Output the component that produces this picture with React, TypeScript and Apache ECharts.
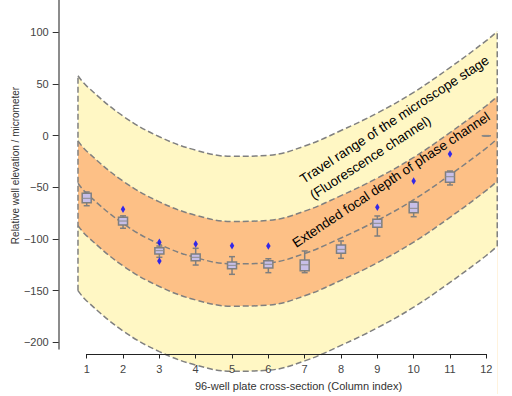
import React, { useEffect, useRef } from "react";
import * as echarts from "echarts";

// Column positions of the 96-well plate cross-section
const COLUMNS = [1, 2, 3, 4, 5, 6, 7, 8, 9, 10, 11, 12];

// Fitted plate-surface curve
const CURVE_X = [0.76, 1, 2, 3, 4, 5, 6, 7, 8, 9, 10, 11, 12, 12.3];
const CURVE_CENTER = [-46, -56, -85, -105, -118, -124, -123, -114, -99, -82, -62, -38, -12, -3];
// Half-widths of the bands around the curve
const FOCAL_HALF = 41; // extended focal depth of phase channel
const TRAVEL_HALF = 104; // travel range of the microscope stage

// Box statistics per column
const BOX_LOW = [-67.8, -89.6, -117.7, -125.2, -134.2, -132.6, -132.6, -118.7, -97.1, -78.4, -47.7, 0];
const BOX_Q1 = [-64.9, -86.4, -114.5, -121.0, -128.8, -128.1, -130.7, -113.9, -88.7, -74.5, -45.1, 0];
const BOX_MED = [-60.6, -82.6, -111.3, -117.7, -125.5, -124.5, -125.0, -110.0, -84.8, -70.3, -39.7, 0];
const BOX_Q3 = [-55.8, -78.9, -108.4, -114.5, -122.3, -121.0, -120.3, -105.8, -80.9, -64.5, -35.1, 0];
const BOX_HIGH = [-54.5, -77.6, -106.8, -109.0, -117.1, -119.1, -111.6, -101.9, -77.7, -63.9, -34.2, 0];

// Outliers
const OUTLIER_COL = [2, 3, 3, 4, 5, 6, 9, 10, 11];
const OUTLIER_VAL = [-71.3, -103.2, -121.3, -104.8, -106.5, -106.8, -69.3, -43.9, -17.7];

// Y tick labels
const Y_TICKS = [-200, -150, -100, -50, 0, 50, 100];

const FONT = "Liberation Sans";
const YELLOW = "#fff7c4";
const ORANGE = "#fdc086";
const DASH_COLOR = "#808080";

export default function App() {
  const ref = useRef<HTMLDivElement>(null);

  useEffect(() => {
    if (!ref.current) return;
    const chart = echarts.init(ref.current, undefined, { renderer: "svg" });

    const toPairs = (offset: number) => CURVE_X.map((x, i) => [x, CURVE_CENTER[i] + offset]);
    const yellowUpper = toPairs(TRAVEL_HALF);
    const yellowLower = toPairs(-TRAVEL_HALF);
    const orangeUpper = toPairs(FOCAL_HALF);
    const orangeLower = toPairs(-FOCAL_HALF);
    const center = toPairs(0);
    const first = 0;
    const last = CURVE_X.length - 1;

    const dashed = { color: DASH_COLOR, width: 1.5, type: [6, 3] as number[] };

    const boundary = (name: string, data: number[][], fill: string) => ({
      name,
      type: "line",
      xAxisIndex: 0,
      yAxisIndex: 0,
      data,
      smooth: 0.4,
      symbol: "none",
      silent: true,
      lineStyle: dashed,
      areaStyle: { color: fill, opacity: 1, origin: "start" },
      z: 1,
    });

    const boxData = COLUMNS.map((c, i) => [c, BOX_LOW[i], BOX_Q1[i], BOX_MED[i], BOX_Q3[i], BOX_HIGH[i]]);
    const outliers = OUTLIER_COL.map((c, i) => [c, OUTLIER_VAL[i]]);

    const option: any = {
      animation: false,
      textStyle: { fontFamily: FONT },
      grid: [
        { left: 50.37, width: 461.39, top: 1.41, height: 392.54 },
        { left: 86.7, width: 399.6, top: 0, height: 359.3 },
        { left: 58.7, width: 100, top: 0, height: 349 },
      ],
      xAxis: [
        { type: "value", gridIndex: 0, min: 0, max: 12.7, show: false },
        {
          type: "value",
          gridIndex: 1,
          min: 1,
          max: 12,
          interval: 1,
          z: 5,
          splitLine: { show: false },
          axisLine: { show: true, lineStyle: { color: "#222", width: 1 } },
          axisTick: { show: true, length: 4.5, lineStyle: { color: "#222", width: 1 } },
          axisLabel: { fontSize: 11, color: "#444", margin: 9, fontFamily: FONT },
          name: "96-well plate cross-section (Column index)",
          nameLocation: "middle",
          nameGap: 26,
          nameTextStyle: { fontSize: 11, color: "#333", fontFamily: FONT, padding: [0, 0, 0, 24] },
        },
        { type: "value", gridIndex: 2, show: false },
      ],
      yAxis: [
        { type: "value", gridIndex: 0, min: -250, max: 130, show: false },
        { type: "value", gridIndex: 1, min: 0, max: 1, show: false },
        {
          type: "value",
          gridIndex: 2,
          min: -206.5,
          max: 131.37,
          z: 5,
          splitLine: { show: false },
          axisLine: { show: true, lineStyle: { color: "#666", width: 1.5 } },
          axisTick: { show: true, length: 6, customValues: Y_TICKS, lineStyle: { color: "#333", width: 1 } },
          axisLabel: {
            fontSize: 11,
            color: "#444",
            margin: 10,
            fontFamily: FONT,
            customValues: Y_TICKS,
            formatter: (v: number) => (v < 0 ? "\u2212" + Math.abs(v) : String(v)),
          },
          name: "Relative well elevation / micrometer",
          nameLocation: "middle",
          nameGap: 38,
          nameTextStyle: { fontSize: 10, color: "#333", fontFamily: FONT, padding: [0, 0, 0, 18] },
        },
      ],
      series: [
        boundary("travelUpper", yellowUpper, YELLOW),
        boundary("focalUpper", orangeUpper, ORANGE),
        boundary("focalLower", orangeLower, YELLOW),
        boundary("travelLower", yellowLower, "#ffffff"),
        {
          name: "leftEdge",
          type: "line",
          data: [yellowLower[first], yellowUpper[first]],
          symbol: "none",
          silent: true,
          lineStyle: dashed,
          z: 1,
        },
        {
          name: "rightEdge",
          type: "line",
          data: [yellowLower[last], yellowUpper[last]],
          symbol: "none",
          silent: true,
          lineStyle: dashed,
          z: 1,
        },
        {
          name: "center",
          type: "line",
          data: center,
          smooth: 0.4,
          symbol: "none",
          silent: true,
          lineStyle: dashed,
          z: 1,
        },
        {
          name: "boxes",
          type: "custom",
          xAxisIndex: 0,
          yAxisIndex: 0,
          data: boxData,
          z: 3,
          renderItem: (params: any, api: any) => {
            const x = api.value(0);
            const pLo = api.coord([x, api.value(1)]);
            const pQ1 = api.coord([x, api.value(2)]);
            const pMed = api.coord([x, api.value(3)]);
            const pQ3 = api.coord([x, api.value(4)]);
            const pHi = api.coord([x, api.value(5)]);
            const cx = pMed[0];
            const bw = 4.5;
            const cw = 3;
            const st = { stroke: "#7f7f7f", lineWidth: 1.5 };
            return {
              type: "group",
              children: [
                { type: "line", shape: { x1: cx, y1: pLo[1], x2: cx, y2: pQ1[1] }, style: st },
                { type: "line", shape: { x1: cx, y1: pQ3[1], x2: cx, y2: pHi[1] }, style: st },
                { type: "line", shape: { x1: cx - cw, y1: pLo[1], x2: cx + cw, y2: pLo[1] }, style: st },
                { type: "line", shape: { x1: cx - cw, y1: pHi[1], x2: cx + cw, y2: pHi[1] }, style: st },
                {
                  type: "rect",
                  shape: { x: cx - bw, y: pQ3[1], width: bw * 2, height: pQ1[1] - pQ3[1] },
                  style: { fill: "#c7bfe8", stroke: "#7f7f7f", lineWidth: 1.5 },
                },
                {
                  type: "line",
                  shape: { x1: cx - bw, y1: pMed[1], x2: cx + bw, y2: pMed[1] },
                  style: { stroke: "#8c8c8c", lineWidth: 1 },
                },
              ],
            };
          },
        },
        {
          name: "outliers",
          type: "scatter",
          data: outliers,
          symbol: "diamond",
          symbolSize: [4.5, 7.5],
          itemStyle: { color: "#0000ff" },
          silent: true,
          z: 4,
        },
      ],
      graphic: [
        {
          type: "text",
          x: 305,
          y: 186,
          rotation: 0.576,
          z: 10,
          style: {
            text: "Travel range of the microscope stage",
            fontSize: 13.5,
            fontFamily: FONT,
            fill: "#000",
            textAlign: "left",
            textVerticalAlign: "bottom",
          },
        },
        {
          type: "text",
          x: 315,
          y: 202,
          rotation: 0.576,
          z: 10,
          style: {
            text: "(Fluorescence channel)",
            fontSize: 13.5,
            fontFamily: FONT,
            fill: "#000",
            textAlign: "left",
            textVerticalAlign: "bottom",
          },
        },
        {
          type: "text",
          x: 297.7,
          y: 250,
          rotation: 0.585,
          z: 10,
          style: {
            text: "Extended focal depth of phase channel",
            fontSize: 13.5,
            fontFamily: FONT,
            fill: "#000",
            textAlign: "left",
            textVerticalAlign: "bottom",
          },
        },
      ],
    };

    chart.setOption(option);
    return () => chart.dispose();
  }, []);

  return (
    <div
      ref={ref}
      style={{ position: "absolute", left: 0, top: 0, width: 512, height: 396, background: "#fff" }}
    />
  );
}
